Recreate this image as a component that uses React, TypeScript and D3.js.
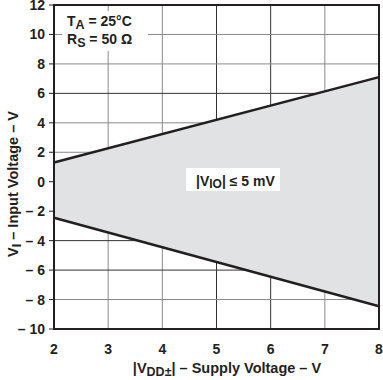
import React from "react";
import * as d3 from "d3";

const supplyV = [2, 8];
const upperV = [1.3, 7.1];
const lowerV = [-2.45, -8.45];
const xTicks = [2, 3, 4, 5, 6, 7, 8];
const yTicks = [12, 10, 8, 6, 4, 2, 0, -2, -4, -6, -8, -10];
const darkX = [5, 6];
const darkY = [6, -4, -6];

const W = 383, H = 380;
const L = 54, R = 379, T = 5, B = 329;

export default function App() {
  const x = d3.scaleLinear().domain([2, 8]).range([L, R]);
  const y = d3.scaleLinear().domain([-10, 12]).range([B, T]);
  const pts = supplyV.map((v, i) => ({ v, up: upperV[i], lo: lowerV[i] }));
  const area = d3.area<any>().x(d => x(d.v)).y0(d => y(d.lo)).y1(d => y(d.up));
  const lineU = d3.line<any>().x(d => x(d.v)).y(d => y(d.up));
  const lineL = d3.line<any>().x(d => x(d.v)).y(d => y(d.lo));
  const font = "'Liberation Sans', Arial, sans-serif";
  const fmt = (t: number) => (t < 0 ? "\u2013 " + Math.abs(t) : String(t));
  return (
    <svg width={W} height={H} style={{ position: "absolute", left: 0, top: 0, background: "#fff" }}
      fontFamily={font} fontWeight="bold">
      {xTicks.slice(1, -1).map(t => (
        <line key={"gx" + t} x1={x(t)} x2={x(t)} y1={T} y2={B}
          stroke={darkX.includes(t) ? "#333" : "#8a8a8a"} strokeWidth={1} />
      ))}
      {yTicks.slice(1, -1).map(t => (
        <line key={"gy" + t} x1={L} x2={R} y1={y(t)} y2={y(t)}
          stroke={darkY.includes(t) ? "#333" : "#8a8a8a"} strokeWidth={1} />
      ))}
      <path d={area(pts) || ""} fill="#e1e2e4" />
      <path d={lineU(pts) || ""} fill="none" stroke="#231f20" strokeWidth={2.5} />
      <path d={lineL(pts) || ""} fill="none" stroke="#231f20" strokeWidth={2.5} />
      <rect x={L} y={T} width={R - L} height={B - T} fill="none" stroke="#231f20" strokeWidth={2} />
      {yTicks.map(t => (
        <g key={"yt" + t}>
          <line x1={L - 5} x2={L} y1={y(t)} y2={y(t)} stroke="#231f20" strokeWidth={1} />
          <text x={45} y={y(t)} dy="0.36em" textAnchor="end" fontSize={14} fill="#231f20">{fmt(t)}</text>
        </g>
      ))}
      {xTicks.map(t => (
        <text key={"xt" + t} x={x(t)} y={354} textAnchor="middle" fontSize={14} fill="#231f20">{t}</text>
      ))}
      <rect x={62} y={11} width={86} height={40} fill="#fff" />
      <text x={67} y={26} fontSize={14} fill="#231f20">
        T<tspan dy={3} fontSize={12.5}>A</tspan><tspan dy={-3}> = 25°C</tspan>
      </text>
      <text x={67} y={44} fontSize={14} fill="#231f20">
        R<tspan dy={3} fontSize={12.5}>S</tspan><tspan dy={-3}> = 50 Ω</tspan>
      </text>
      <rect x={186} y={168} width={94} height={23} fill="#fff" />
      <text x={196} y={186} fontSize={14} fill="#231f20">
        |V<tspan dy={2} fontSize={12}>IO</tspan><tspan dy={-2}>| ≤ 5 mV</tspan>
      </text>
      <text x={227} y={373} textAnchor="middle" fontSize={14.5} fill="#231f20">
        |V<tspan dy={3} fontSize={12.5}>DD±</tspan><tspan dy={-3}>| – Supply Voltage – V</tspan>
      </text>
      <text transform={`translate(18,184) rotate(-90)`} textAnchor="middle" fontSize={14.5} fill="#231f20">
        V<tspan dy={3} fontSize={12.5}>I</tspan><tspan dy={-3}>  – Input Voltage – V</tspan>
      </text>
    </svg>
  );
}
